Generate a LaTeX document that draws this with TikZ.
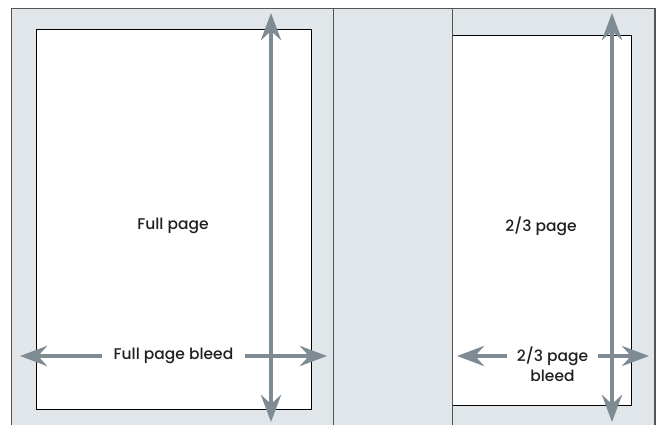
\documentclass[tikz,border=0pt]{standalone}
\usepackage{fontspec}
\setmainfont{Poppins}[UprightFont={* Medium}]
\usetikzlibrary{arrows.meta, positioning}
\definecolor{bleedgrey}{HTML}{E1E6EA}
\definecolor{arrowgrey}{HTML}{7F8B93}
\definecolor{framegrey}{HTML}{555555}
\definecolor{inkdark}{HTML}{231F20}

\begin{document}
\begin{tikzpicture}[
    x=1pt, y=-1pt,
    page/.style={draw=black, fill=white, line width=0.9pt, anchor=north west, inner sep=0pt},
    bleedarrow/.style={draw=arrowgrey, line width=4.5pt, -{Stealth[length=27pt, width=20pt, inset=9pt]}},
    bothways/.style={bleedarrow, {Stealth[length=27pt, width=20pt, inset=9pt]}-{Stealth[length=27pt, width=20pt, inset=9pt]}},
    caption/.style={font=\fontsize{15.5}{20}\selectfont, text=inkdark, align=center},
]
    \useasboundingbox (0,0) rectangle (656,424);
    \fill[bleedgrey] (11,8.5) rectangle (655,430);
    \draw[framegrey, line width=1.2pt] (11.5,430) -- (11.5,8.5) -- (655,8.5) -- (655,430);
    \draw[framegrey, line width=0.8pt] (333,8.5) -- (333,430);

    % Pages
    \node[page, minimum width=275pt, minimum height=380pt] (fullpage) at (36,29) {};
    \node[page, minimum width=179pt, minimum height=370pt] (twothirds) at (452,35) {};
    \draw[framegrey, line width=0.8pt] (452,8.5) -- (452,430);

    \node[caption] at (173,226) {Full page};
    \node[caption] at (541,226) {2/3 page};

    % Bleed arrows
    \coordinate (fulltop) at (271,13);
    \coordinate (fullbottom) at (271,422);
    \coordinate (fullleft) at (20,356);
    \coordinate (fullright) at (327,356);
    \coordinate (ttop) at (612,13);
    \coordinate (tbottom) at (612,422);
    \coordinate (tleft) at (457,356);
    \coordinate (tright) at (649,356);

    \draw[bothways] (fulltop) -- (fullbottom);
    \draw[bothways] (ttop) -- (tbottom);

    \node[caption, inner xsep=11pt, inner ysep=2pt] (fullbleed) at (173.5,356) {Full page bleed};
    \draw[bleedarrow] (fullbleed.west |- fullleft) -- (fullleft);
    \draw[bleedarrow] (fullbleed.east |- fullright) -- (fullright);

    \node[caption, inner xsep=10pt, inner ysep=2pt, anchor=north] (tbleed) at (552.5,344.5) {2/3 page\\bleed};
    \draw[bleedarrow] (tbleed.west |- tleft) -- (tleft);
    \draw[bleedarrow] (tbleed.east |- tright) -- (tright);
\end{tikzpicture}
\end{document}
